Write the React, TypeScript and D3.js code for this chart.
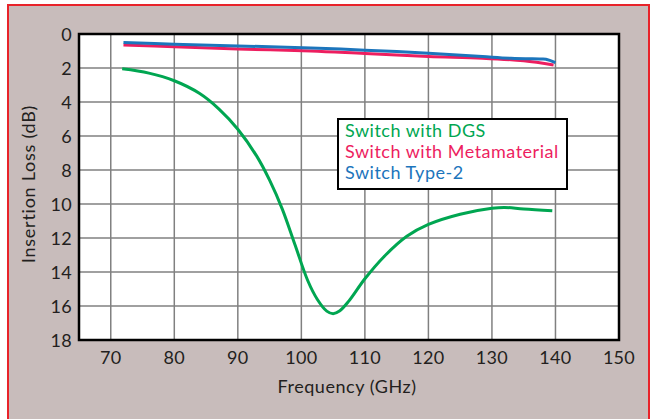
import React from "react";
import * as d3 from "d3";

const xTicks = [70, 80, 90, 100, 110, 120, 130, 140, 150];
const yTicks = [0, 2, 4, 6, 8, 10, 12, 14, 16, 18];

const dgsFreq = [71.8, 76, 80, 84, 87, 90, 93, 95, 97, 99, 101, 102.5, 104, 105, 106, 107.5, 110, 113, 116.6, 120, 125, 130, 132, 135, 139.5];
const dgsLoss = [2.05, 2.3, 2.75, 3.5, 4.4, 5.6, 7.2, 8.6, 10.3, 12.4, 14.5, 15.6, 16.3, 16.45, 16.3, 15.7, 14.4, 13.1, 11.9, 11.2, 10.6, 10.25, 10.2, 10.3, 10.4];

const metaFreq = [72, 80, 90, 101.5, 110, 120, 128.5, 135, 139.7];
const metaLoss = [0.65, 0.75, 0.88, 1.0, 1.15, 1.32, 1.42, 1.58, 1.82];

const type2Freq = [72, 80, 90, 101.5, 110, 120, 128.5, 133, 137.5, 138.5, 140];
const type2Loss = [0.5, 0.6, 0.7, 0.82, 0.95, 1.13, 1.33, 1.43, 1.47, 1.48, 1.68];

const seriesNames = ["Switch with DGS", "Switch with Metamaterial", "Switch Type-2"];
const seriesColors = ["#00a651", "#ed1e5f", "#1c75bc"];

export default function App() {
  const W = 655, H = 419;
  const left = 79, right = 619, top = 34, bottom = 340;
  const x = d3.scaleLinear().domain([65, 150]).range([left, right]);
  const y = d3.scaleLinear().domain([0, 18]).range([top, bottom]);
  const line = d3.line<[number, number]>().x(d => x(d[0])).y(d => y(d[1])).curve(d3.curveCatmullRom.alpha(0.5));
  const mk = (f: number[], v: number[]) => f.map((ff, i) => [ff, v[i]] as [number, number]);
  const series = [mk(dgsFreq, dgsLoss), mk(metaFreq, metaLoss), mk(type2Freq, type2Loss)];
  const font = "Lato, 'Open Sans', sans-serif";
  const txt = "#231f20";
  return (
    <svg width={W} height={H} style={{ position: "absolute", left: 0, top: 0 }} fontFamily={font}>
      <rect x={0} y={0} width={W} height={H} fill="#ffffff" />
      <rect x={8} y={5} width={641} height={420} fill="#c8bcbb" stroke="#e8232a" strokeWidth={2} />
      <rect x={left} y={top} width={right - left} height={bottom - top} fill="#ffffff" />
      {xTicks.map(t => (
        <line key={"gx" + t} x1={x(t)} x2={x(t)} y1={top} y2={bottom} stroke="#808080" strokeWidth={1.5} />
      ))}
      {yTicks.map(t => (
        <line key={"gy" + t} x1={left} x2={right} y1={y(t)} y2={y(t)} stroke="#808080" strokeWidth={1.5} />
      ))}
      <rect x={left} y={top} width={right - left} height={bottom - top} fill="none" stroke="#000" strokeWidth={2.5} />
      {xTicks.map(t => (
        <text key={"tx" + t} x={x(t)} y={bottom + 24} textAnchor="middle" fontSize={18} letterSpacing={0.3} fill={txt}>{t}</text>
      ))}
      {yTicks.map(t => (
        <text key={"ty" + t} x={left - 7} y={y(t) + 6.5} textAnchor="end" fontSize={18} letterSpacing={0.3} fill={txt}>{t}</text>
      ))}
      <text x={347} y={393} textAnchor="middle" fontSize={18} letterSpacing={0.55} fill={txt}>Frequency (GHz)</text>
      <text transform={`translate(35,${184}) rotate(-90)`} textAnchor="middle" fontSize={18} letterSpacing={0.75} fill={txt}>Insertion Loss (dB)</text>
      {series.map((s, i) => (
        <path key={"s" + i} d={line(s) || ""} fill="none" stroke={seriesColors[i]} strokeWidth={3} />
      ))}
      <rect x={338} y={119} width={229} height={70} fill="#ffffff" stroke="#000" strokeWidth={2} />
      {seriesNames.map((n, i) => (
        <text key={"l" + i} x={345} y={137 + i * 21} fontSize={18} letterSpacing={0.5} fill={seriesColors[i]}>{n}</text>
      ))}
    </svg>
  );
}
